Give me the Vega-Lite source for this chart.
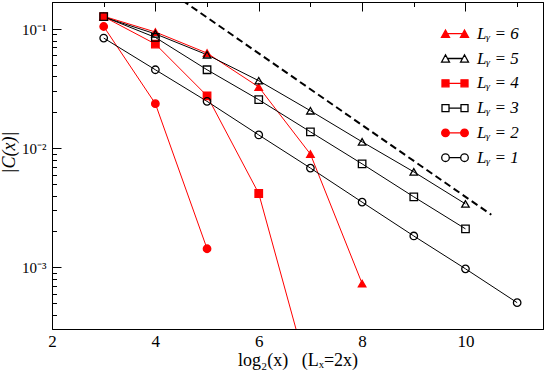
{
  "$schema": "https://vega.github.io/schema/vega-lite/v6.json",
  "width": 491,
  "height": 327,
  "autosize": {"type": "none"},
  "padding": {"left": 52, "top": 2, "right": 2, "bottom": 43},
  "config": {
    "font": "Liberation Serif",
    "view": {"stroke": "#000000", "strokeWidth": 1},
    "axis": {"ticks": false, "grid": true, "gridColor": "#000000", "gridOpacity": 1, "gridWidth": 1, "domainColor": "#000000", "labelColor": "#000000", "titleColor": "#000000", "labelFont": "Liberation Serif", "titleFont": "Liberation Serif", "labelFontSize": 17, "titleFontSize": 17, "titleFontWeight": "normal"}
  },
  "datasets": {
    "series": [
      {"Ly": "6", "t": 3, "C": 0.128},
      {"Ly": "6", "t": 4, "C": 0.0944},
      {"Ly": "6", "t": 5, "C": 0.0628},
      {"Ly": "6", "t": 6, "C": 0.0326},
      {"Ly": "6", "t": 7, "C": 0.0089},
      {"Ly": "6", "t": 8, "C": 0.00073},
      {"Ly": "5", "t": 3, "C": 0.126},
      {"Ly": "5", "t": 4, "C": 0.091},
      {"Ly": "5", "t": 5, "C": 0.0608},
      {"Ly": "5", "t": 6, "C": 0.0368},
      {"Ly": "5", "t": 7, "C": 0.0206},
      {"Ly": "5", "t": 8, "C": 0.0113},
      {"Ly": "5", "t": 9, "C": 0.00632},
      {"Ly": "5", "t": 10, "C": 0.0034},
      {"Ly": "4", "t": 3, "C": 0.127},
      {"Ly": "4", "t": 4, "C": 0.0748},
      {"Ly": "4", "t": 5, "C": 0.0275},
      {"Ly": "4", "t": 6, "C": 0.00416},
      {"Ly": "4", "t": 7, "C": 0.00011},
      {"Ly": "3", "t": 3, "C": 0.127},
      {"Ly": "3", "t": 4, "C": 0.085},
      {"Ly": "3", "t": 5, "C": 0.0455},
      {"Ly": "3", "t": 6, "C": 0.0255},
      {"Ly": "3", "t": 7, "C": 0.0137},
      {"Ly": "3", "t": 8, "C": 0.00738},
      {"Ly": "3", "t": 9, "C": 0.0039},
      {"Ly": "3", "t": 10, "C": 0.0021},
      {"Ly": "2", "t": 3, "C": 0.105},
      {"Ly": "2", "t": 4, "C": 0.0236},
      {"Ly": "2", "t": 5, "C": 0.00143},
      {"Ly": "1", "t": 3, "C": 0.084},
      {"Ly": "1", "t": 4, "C": 0.0455},
      {"Ly": "1", "t": 5, "C": 0.0247},
      {"Ly": "1", "t": 6, "C": 0.0129},
      {"Ly": "1", "t": 7, "C": 0.0068},
      {"Ly": "1", "t": 8, "C": 0.00352},
      {"Ly": "1", "t": 9, "C": 0.00183},
      {"Ly": "1", "t": 10, "C": 0.00097},
      {"Ly": "1", "t": 11, "C": 0.000504}
    ],
    "guide": [
      {"t": 4, "C": 0.25},
      {"t": 10.5, "C": 0.00276}
    ]
  },
  "layer": [
    {
      "data": {"name": "series"},
      "mark": {"type": "line", "strokeWidth": 1, "clip": true},
      "encoding": {
        "x": {
          "field": "t", "type": "quantitative",
          "scale": {"domain": [2, 11.5], "nice": false, "zero": false},
          "axis": {
            "orient": "bottom",
            "values": [2, 3, 4, 5, 6, 7, 8, 9, 10, 11],
            "gridDash": {"condition": {"test": "datum.value % 2 == 0", "value": [9, 2000]}, "value": [4.5, 2000]},
            "labelPadding": 17.7,
            "labelBaseline": "alphabetic",
            "labelFlush": false,
            "labelOverlap": false,
            "labelExpr": "datum.value % 2 == 0 ? datum.label : ''",
            "title": "log₂(x)\u00a0\u00a0\u00a0(Lₓ=2x)",
            "titleFontSize": 18,
            "titleBaseline": "alphabetic",
            "titleY": 36,
            "titleX": 245.5
          }
        },
        "y": {
          "field": "C", "type": "quantitative",
          "scale": {"type": "log", "domain": [0.000303, 0.1686], "nice": false},
          "axis": {
            "orient": "left",
            "values": [0.0004, 0.0005, 0.0006, 0.0007, 0.0008, 0.0009, 0.001, 0.002, 0.003, 0.004, 0.005, 0.006, 0.007, 0.008, 0.009, 0.01, 0.02, 0.03, 0.04, 0.05, 0.06, 0.07, 0.08, 0.09, 0.1],
            "gridDash": {"condition": {"test": "abs(log(datum.value)/LN10 - round(log(datum.value)/LN10)) < 0.001", "value": [9, 2000]}, "value": [4.5, 2000]},
            "labelPadding": 6,
            "labelFontSize": 15,
            "labelOverlap": false,
            "labelFlush": false,
            "labelBound": false,
            "labelExpr": "abs(log(datum.value)/LN10 - round(log(datum.value)/LN10)) < 0.001 ? (round(log(datum.value)/LN10) == -1 ? '10⁻¹' : (round(log(datum.value)/LN10) == -2 ? '10⁻²' : '10⁻³')) : ''",
            "title": "|C(x)|",
            "titleFontStyle": "italic",
            "titleFontSize": 18,
            "titleX": -34,
            "titleY": 150
          }
        },
        "color": {
          "field": "Ly", "type": "nominal",
          "scale": {"domain": ["6", "5", "4", "3", "2", "1"], "range": ["#ff0000", "#000000", "#ff0000", "#000000", "#ff0000", "#000000"]},
          "legend": null
        }
      }
    },
    {
      "data": {"name": "guide"},
      "mark": {"type": "line", "strokeDash": [7, 4], "strokeWidth": 2, "color": "#000000", "clip": true},
      "encoding": {
        "x": {"field": "t", "type": "quantitative", "scale": {"domain": [2, 11.5], "nice": false, "zero": false}, "axis": null},
        "y": {"field": "C", "type": "quantitative", "scale": {"type": "log", "domain": [0.000303, 0.1686], "nice": false}, "axis": null}
      }
    },
    {
      "data": {"name": "series"},
      "mark": {"type": "point", "filled": true, "opacity": 1, "strokeWidth": 1.3, "size": 56, "clip": true},
      "encoding": {
        "x": {
          "field": "t", "type": "quantitative",
          "scale": {"domain": [2, 11.5], "nice": false, "zero": false},
          "axis": {
            "orient": "top",
            "values": [2, 3, 4, 5, 6, 7, 8, 9, 10, 11],
            "gridDash": {"condition": {"test": "datum.value % 2 == 0", "value": [9, 2000]}, "value": [4.5, 2000]},
            "labels": false,
            "title": null
          }
        },
        "y": {
          "field": "C", "type": "quantitative",
          "scale": {"type": "log", "domain": [0.000303, 0.1686], "nice": false},
          "axis": {
            "orient": "right",
            "values": [0.0004, 0.0005, 0.0006, 0.0007, 0.0008, 0.0009, 0.001, 0.002, 0.003, 0.004, 0.005, 0.006, 0.007, 0.008, 0.009, 0.01, 0.02, 0.03, 0.04, 0.05, 0.06, 0.07, 0.08, 0.09, 0.1],
            "gridDash": {"condition": {"test": "abs(log(datum.value)/LN10 - round(log(datum.value)/LN10)) < 0.001", "value": [9, 2000]}, "value": [4.5, 2000]},
            "labels": false,
            "title": null
          }
        },
        "shape": {
          "field": "Ly", "type": "nominal",
          "scale": {"domain": ["6", "5", "4", "3", "2", "1"], "range": ["triangle-up", "triangle-up", "square", "square", "circle", "circle"]},
          "legend": null
        },
        "fill": {
          "field": "Ly", "type": "nominal",
          "scale": {"domain": ["6", "5", "4", "3", "2", "1"], "range": ["#ff0000", "transparent", "#ff0000", "transparent", "#ff0000", "transparent"]},
          "legend": null
        },
        "stroke": {
          "field": "Ly", "type": "nominal",
          "scale": {"domain": ["6", "5", "4", "3", "2", "1"], "range": ["#ff0000", "#000000", "#ff0000", "#000000", "#ff0000", "#000000"]},
          "legend": null
        }
      }
    },
    {
      "data": {"name": "series"},
      "transform": [{"filter": "datum.t == 3"}],
      "mark": {"type": "point", "filled": true, "opacity": 0, "clip": true},
      "encoding": {
        "x": {"field": "t", "type": "quantitative", "scale": {"domain": [2, 11.5], "nice": false, "zero": false}, "axis": null},
        "y": {"field": "C", "type": "quantitative", "scale": {"type": "log", "domain": [0.000303, 0.1686], "nice": false}, "axis": null},
        "fill": {
          "field": "Ly", "type": "nominal",
          "scale": {"domain": ["6", "5", "4", "3", "2", "1"], "range": ["#ff0000", "transparent", "#ff0000", "transparent", "#ff0000", "transparent"]},
          "legend": {"title": null}
        },
        "stroke": {
          "field": "Ly", "type": "nominal",
          "scale": {"domain": ["6", "5", "4", "3", "2", "1"], "range": ["#ff0000", "#000000", "#ff0000", "#000000", "#ff0000", "#000000"]},
          "legend": {"title": null}
        },
        "shape": {
          "field": "Ly", "type": "nominal",
          "scale": {
            "domain": ["6", "5", "4", "3", "2", "1"],
            "range": [
              "M-1.35,0.37L-0.95,-0.37L-0.55,0.37Z M0.55,0.37L0.95,-0.37L1.35,0.37Z M-0.75,0L0.75,0",
              "M-1.35,0.37L-0.95,-0.37L-0.55,0.37Z M0.55,0.37L0.95,-0.37L1.35,0.37Z M-0.75,0L0.75,0",
              "M-1.3,-0.35L-0.6,-0.35L-0.6,0.35L-1.3,0.35Z M0.6,-0.35L1.3,-0.35L1.3,0.35L0.6,0.35Z M-0.6,0L0.6,0",
              "M-1.3,-0.35L-0.6,-0.35L-0.6,0.35L-1.3,0.35Z M0.6,-0.35L1.3,-0.35L1.3,0.35L0.6,0.35Z M-0.6,0L0.6,0",
              "M-1.33,0A0.38,0.38 0 1,0 -0.57,0A0.38,0.38 0 1,0 -1.33,0Z M0.57,0A0.38,0.38 0 1,0 1.33,0A0.38,0.38 0 1,0 0.57,0Z M-0.57,0L0.57,0",
              "M-1.33,0A0.38,0.38 0 1,0 -0.57,0A0.38,0.38 0 1,0 -1.33,0Z M0.57,0A0.38,0.38 0 1,0 1.33,0A0.38,0.38 0 1,0 0.57,0Z M-0.57,0L0.57,0"
            ]
          },
          "legend": {
            "title": null,
            "orient": "none",
            "legendX": 392,
            "legendY": 20.7,
            "direction": "vertical",
            "padding": 0,
            "symbolSize": 400,
            "symbolStrokeWidth": 1.3,
            "symbolOpacity": 1,
            "labelFont": "Liberation Serif",
            "labelFontSize": 17,
            "labelFontStyle": "italic",
            "labelColor": "#000000",
            "labelOffset": 11,
            "rowPadding": 5.8,
            "labelExpr": "'Lᵧ = ' + datum.label"
          }
        }
      }
    }
  ],
  "resolve": {
    "scale": {"x": "independent", "y": "independent", "shape": "independent", "fill": "independent", "stroke": "independent"}
  }
}
